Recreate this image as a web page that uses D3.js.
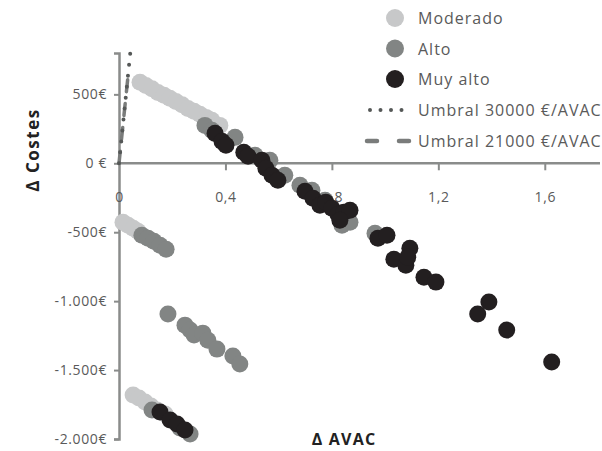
<!DOCTYPE html>
<html>
<head>
<meta charset="utf-8">
<script src="https://cdn.jsdelivr.net/npm/d3@7"></script>
<style>
  body { margin: 0; background: #fff; }
  svg text { font-family: "Open Sans", "Noto Sans", sans-serif; }
</style>
</head>
<body>
<svg id="chart" width="602" height="451"></svg>
<script>
// data: [ΔAVAC, ΔCostes]
const moderado = [
  [0.079, 587], [0.101, 565], [0.124, 540], [0.146, 514], [0.169, 493], [0.191, 471],
  [0.214, 449], [0.237, 424], [0.259, 398], [0.282, 377], [0.304, 355], [0.327, 333],
  [0.349, 312], [0.379, 275],
  [0.015, -428], [0.034, -449], [0.053, -471], [0.071, -493],
  [0.053, -1681], [0.075, -1703], [0.098, -1732], [0.120, -1761], [0.143, -1790], [0.173, -1819]
];
const alto = [
  [0.323, 275], [0.349, 239], [0.436, 188], [0.511, 58], [0.567, 22], [0.623, -87],
  [0.680, -159], [0.725, -196], [0.774, -268], [0.838, -449], [0.868, -428], [0.962, -507],
  [0.086, -522], [0.109, -543], [0.131, -565], [0.154, -594], [0.177, -623],
  [0.184, -1094], [0.248, -1174], [0.267, -1210], [0.282, -1246], [0.315, -1232],
  [0.334, -1283], [0.368, -1348], [0.428, -1398], [0.454, -1456],
  [0.124, -1790], [0.229, -1920], [0.267, -1964]
];
const muyAlto = [
  [0.361, 217], [0.387, 159], [0.402, 130], [0.469, 80], [0.485, 51], [0.537, 22],
  [0.552, -36], [0.575, -87], [0.597, -123], [0.699, -203], [0.729, -254], [0.755, -304],
  [0.777, -283], [0.800, -326], [0.823, -370], [0.845, -355], [0.868, -341], [0.830, -413],
  [0.973, -543], [1.007, -522], [1.033, -696], [1.078, -739], [1.093, -616], [1.085, -681],
  [1.146, -826], [1.191, -862], [1.348, -1094], [1.390, -1007], [1.457, -1210], [1.626, -1442],
  [0.154, -1804], [0.192, -1862], [0.218, -1891], [0.248, -1935]
];
const umbral30000 = [[0, 0], [0.045, 850]];
const umbral21000 = [[0, 0], [0.037, 690]];

const xTicks = [0, 0.4, 0.8, 1.2, 1.6];
const xTickLabels = ["0", "0,4", "0,8", "1,2", "1,6"];
const yTicks = [-2000, -1500, -1000, -500, 0, 500];
const yTickLabels = ["-2.000€", "-1.500€", "-1.000€", "-500€", "0 €", "500€"];

const series = [
  { name: "Moderado", values: moderado, color: "#c7c8c9" },
  { name: "Alto", values: alto, color: "#828584" },
  { name: "Muy alto", values: muyAlto, color: "#231f20" }
];

const svg = d3.select("#chart");
const axisColor = "#8a8c8b";
const textColor = "#5a5a5a";

const x = d3.scaleLinear().domain([0, 1.8]).range([119, 598]);
const y = d3.scaleLinear().domain([-2000, 800]).range([439, 53]);

// y axis
const yAxis = svg.append("g").attr("transform", "translate(" + x(0) + ",0)")
  .call(d3.axisLeft(y).tickValues(yTicks).tickSize(5).tickPadding(7)
    .tickFormat((d, i) => yTickLabels[i]));
yAxis.select(".domain").attr("stroke", axisColor).attr("stroke-width", 2.5);
yAxis.selectAll(".tick line").attr("stroke", axisColor).attr("stroke-width", 2);
yAxis.selectAll(".tick text").attr("fill", textColor)
  .style("font-size", "14px").style("letter-spacing", "0.6px");

// x axis on zero line
const xAxis = svg.append("g").attr("transform", "translate(0," + y(0) + ")")
  .call(d3.axisBottom(x).tickValues(xTicks).tickSize(7).tickPadding(22)
    .tickFormat((d, i) => xTickLabels[i]));
xAxis.select(".domain").attr("stroke", axisColor).attr("stroke-width", 2.5)
  .attr("d", "M" + x(0) + ",0H600");
xAxis.selectAll(".tick line").attr("stroke", axisColor).attr("stroke-width", 2)
  .filter(d => d === 0).remove();
xAxis.selectAll(".tick text").attr("fill", textColor)
  .style("font-size", "14px").style("letter-spacing", "0.6px");

// threshold lines
const line = d3.line().x(d => x(d[0])).y(d => y(d[1]));
svg.append("path").datum(umbral21000).attr("d", line).attr("fill", "none")
  .attr("stroke", "#7a7c7b").attr("stroke-width", 3.5).attr("stroke-linecap", "round")
  .attr("stroke-dasharray", "12,12");
svg.append("path").datum(umbral30000).attr("d", line).attr("fill", "none")
  .attr("stroke", "#555857").attr("stroke-width", 4).attr("stroke-linecap", "round")
  .attr("stroke-dasharray", "0,11");

// points
series.forEach(s => {
  svg.append("g").selectAll("circle")
    .data(s.values)
    .enter()
    .append("circle")
    .attr("cx", d => x(d[0]))
    .attr("cy", d => y(d[1]))
    .attr("r", 8.5)
    .attr("fill", s.color);
});

// axis titles
svg.append("text").attr("x", 344).attr("y", 445).attr("text-anchor", "middle")
  .attr("fill", "#222").style("font-size", "16px").style("font-weight", "bold")
  .style("letter-spacing", "1.2px")
  .text("Δ AVAC");
svg.append("text").attr("transform", "translate(39,150) rotate(-90)")
  .attr("text-anchor", "middle").attr("fill", "#222")
  .style("font-size", "17px").style("font-weight", "bold")
  .style("letter-spacing", "1.5px")
  .text("Δ Costes");

// legend
const legend = svg.append("g");
series.forEach((s, i) => {
  const ly = 18 + i * 30.5;
  legend.append("circle").attr("cx", 395).attr("cy", ly).attr("r", 9).attr("fill", s.color);
  legend.append("text").attr("x", 418).attr("y", ly + 6).attr("fill", textColor)
    .style("font-size", "16px").style("letter-spacing", "1px").text(s.name);
});
legend.append("line").attr("x1", 370).attr("x2", 412).attr("y1", 110).attr("y2", 110)
  .attr("stroke", "#555857").attr("stroke-width", 4).attr("stroke-linecap", "round")
  .attr("stroke-dasharray", "0,10.5");
legend.append("text").attr("x", 418).attr("y", 116).attr("fill", textColor)
  .style("font-size", "16px").style("letter-spacing", "1px").text("Umbral 30000 €/AVAC");
legend.append("line").attr("x1", 367).attr("x2", 411).attr("y1", 141).attr("y2", 141)
  .attr("stroke", "#7a7c7b").attr("stroke-width", 4.5).attr("stroke-linecap", "round")
  .attr("stroke-dasharray", "10,22");
legend.append("text").attr("x", 418).attr("y", 147).attr("fill", textColor)
  .style("font-size", "16px").style("letter-spacing", "1px").text("Umbral 21000 €/AVAC");
</script>
</body>
</html>
